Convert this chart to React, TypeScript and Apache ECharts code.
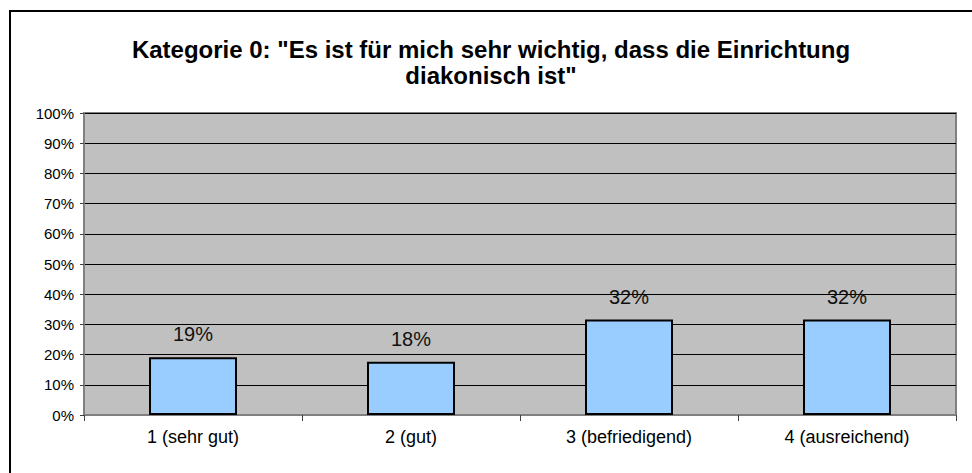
import React, { useEffect, useRef } from "react";
import * as echarts from "echarts";

const titleLines = [
  'Kategorie 0: "Es ist für mich sehr wichtig, dass die Einrichtung',
  'diakonisch ist"',
];
const categories = ["1 (sehr gut)", "2 (gut)", "3 (befriedigend)", "4 (ausreichend)"];
const values = [0.191, 0.176, 0.316, 0.316];
const yMin = 0;
const yMax = 1;
const yStep = 0.1;

const FONT = "'Liberation Sans', Arial, sans-serif";

export default function App() {
  const ref = useRef<HTMLDivElement>(null);
  useEffect(() => {
    if (!ref.current) return;
    const chart = echarts.init(ref.current, null, { renderer: "svg" });
    chart.setOption({
      animation: false,
      backgroundColor: "#ffffff",
      title: {
        text: titleLines.join("\n"),
        left: 486,
        top: 31,
        textAlign: "center",
        textStyle: {
          fontFamily: FONT,
          fontSize: 24,
          fontWeight: "bold",
          color: "#000",
          lineHeight: 26,
        },
      },
      graphic: [
        {
          type: "rect",
          shape: { x: 10, y: 11, width: 1200, height: 1200 },
          style: { fill: "none", stroke: "#000", lineWidth: 2 },
          silent: true,
        },
      ],
      grid: {
        left: 84,
        top: 113,
        right: 16,
        bottom: 58,
        show: true,
        backgroundColor: "#C0C0C0",
        borderColor: "#808080",
        borderWidth: 2,
      },
      xAxis: {
        type: "category",
        data: categories,
        axisLine: { show: true, lineStyle: { color: "#808080", width: 2 } },
        axisTick: { show: true, length: 6, alignWithLabel: false, lineStyle: { color: "#404040" } },
        axisLabel: { fontFamily: FONT, fontSize: 18, color: "#000", margin: 13 },
        splitLine: { show: false },
      },
      yAxis: {
        type: "value",
        min: yMin,
        max: yMax,
        interval: yStep,
        axisLine: { show: true, lineStyle: { color: "#808080", width: 2 } },
        axisTick: { show: true, length: 4, lineStyle: { color: "#404040" } },
        axisLabel: {
          fontFamily: FONT,
          fontSize: 15,
          color: "#000",
          margin: 10,
          formatter: (v: number) => Math.round(v * 100) + "%",
        },
        splitLine: { show: true, lineStyle: { color: "#000", width: 1 } },
      },
      series: [
        {
          type: "bar",
          data: values,
          barWidth: 88,
          itemStyle: { color: "#99CCFF", borderColor: "#000", borderWidth: 2 },
          label: {
            show: true,
            position: "top",
            distance: 13,
            fontFamily: FONT,
            fontSize: 20,
            color: "#111",
            formatter: (p: any) => Math.round(p.value * 100) + "%",
          },
        },
      ],
    });
    return () => chart.dispose();
  }, []);
  return (
    <div
      ref={ref}
      style={{ position: "fixed", left: 0, top: 0, width: 972, height: 473 }}
    />
  );
}
